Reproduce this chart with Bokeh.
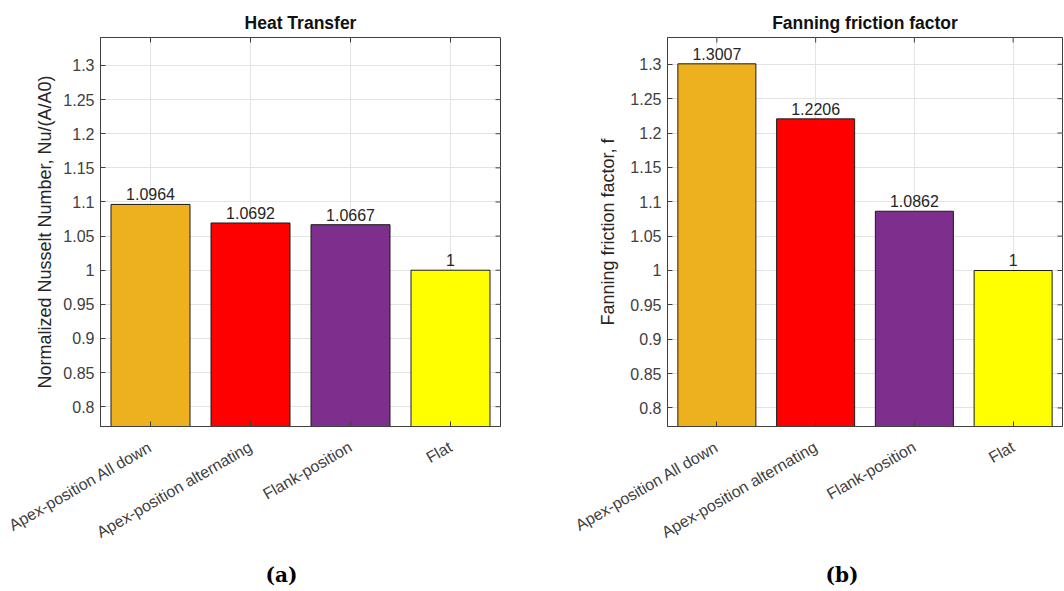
import math

from bokeh.core.properties import value
from bokeh.embed import file_html
from bokeh.layouts import row
from bokeh.models import (ColumnDataSource, FactorRange, FixedTicker,
                          NumeralTickFormatter, Range1d, Title)
from bokeh.plotting import figure
from bokeh.resources import INLINE

# ---- data -------------------------------------------------------------
categories = ["Apex-position All down", "Apex-position alternating", "Flank-position", "Flat"]
bar_colors = ["#EDB120", "#FF0000", "#7E2F8E", "#FFFF00"]
nusselt_norm = [1.0964, 1.0692, 1.0667, 1.0]
friction_factor = [1.3007, 1.2206, 1.0862, 1.0]
y_ticks = [0.8, 0.85, 0.9, 0.95, 1.0, 1.05, 1.1, 1.15, 1.2, 1.25, 1.3]

SANS = "Liberation Sans"
INK = "#404040"
GRID = "#e3e3e3"


def bar_panel(title, ylabel, caption, values, ylim, border_left, frame_w, border_right,
              ylabel_standoff, caption_offset):
    src = ColumnDataSource(dict(
        cat=categories,
        val=values,
        color=bar_colors,
        label=[f"{v:g}" for v in values],
    ))
    p = figure(
        x_range=FactorRange(*categories),
        y_range=Range1d(*ylim),
        frame_width=frame_w, frame_height=389,
        min_border_left=border_left, min_border_right=border_right,
        min_border_top=37, min_border_bottom=165,
        output_backend="svg", toolbar_location=None,
        background_fill_color="white", border_fill_color="white",
    )
    p.outline_line_color = INK
    p.outline_line_width = 1

    p.vbar(x="cat", top="val", bottom=0, width=0.79, source=src,
           fill_color="color", line_color="#1a1a1a", line_width=1)
    p.text(x="cat", y="val", text="label", source=src,
           text_align="center", text_baseline="bottom", y_offset=-4,
           text_font=value(SANS), text_font_size="16px", text_color="#262626")

    # inward tick marks along the top and right edges of the box
    n = len(categories)
    p.scatter(x=categories, y=[ylim[1]] * n, marker="dash", angle=math.pi / 2,
              size=10, line_color=INK, line_width=1)
    p.scatter(x=[float(n)] * len(y_ticks), y=y_ticks, marker="dash",
              size=10, line_color=INK, line_width=1)

    # title
    p.title.text = title
    p.title.align = "center"
    p.title.text_font = SANS
    p.title.text_font_size = "17.5px"
    p.title.text_font_style = "bold"
    p.title.text_color = "#111111"

    # grid
    p.xgrid.grid_line_color = GRID
    p.ygrid.grid_line_color = GRID
    p.ygrid.ticker = FixedTicker(ticks=y_ticks)

    # x axis
    xa = p.xaxis[0]
    xa.major_label_orientation = math.radians(30)
    xa.major_tick_in = 5
    xa.major_tick_out = 0
    xa.major_label_standoff = 19
    xa.major_label_text_font = SANS
    xa.major_label_text_font_size = "16px"
    xa.major_label_text_color = INK
    xa.axis_line_color = INK
    xa.major_tick_line_color = INK

    # y axis
    ya = p.yaxis[0]
    ya.ticker = FixedTicker(ticks=y_ticks)
    ya.formatter = NumeralTickFormatter(format="0.[00]")
    ya.major_tick_in = 5
    ya.major_tick_out = 0
    ya.minor_tick_line_color = None
    ya.major_label_standoff = 6
    ya.major_label_text_font = SANS
    ya.major_label_text_font_size = "16px"
    ya.major_label_text_color = INK
    ya.axis_line_color = INK
    ya.major_tick_line_color = INK
    ya.axis_label = ylabel
    ya.axis_label_text_font = SANS
    ya.axis_label_text_font_size = "18px"
    ya.axis_label_text_font_style = "normal"
    ya.axis_label_text_color = "#262626"
    ya.axis_label_standoff = ylabel_standoff

    # sub-figure caption
    cap = Title(text=caption, align="left", offset=caption_offset, standoff=19,
                text_font="DejaVu Serif", text_font_style="bold",
                text_font_size="20px", text_color="black")
    p.add_layout(cap, "below")
    return p


p1 = bar_panel("Heat Transfer", "Normalized Nusselt Number, Nu/(A/A0)", "(a)",
               nusselt_norm, (0.771, 1.341), 100, 400, 32, 5, 165)
p2 = bar_panel("Fanning friction factor", "Fanning friction factor, f", "(b)",
               friction_factor, (0.773, 1.339), 135, 395, 2, 9, 158)

layout = row(p1, p2)
layout.spacing = 0

open("out.html", "w").write(file_html(layout, INLINE))
